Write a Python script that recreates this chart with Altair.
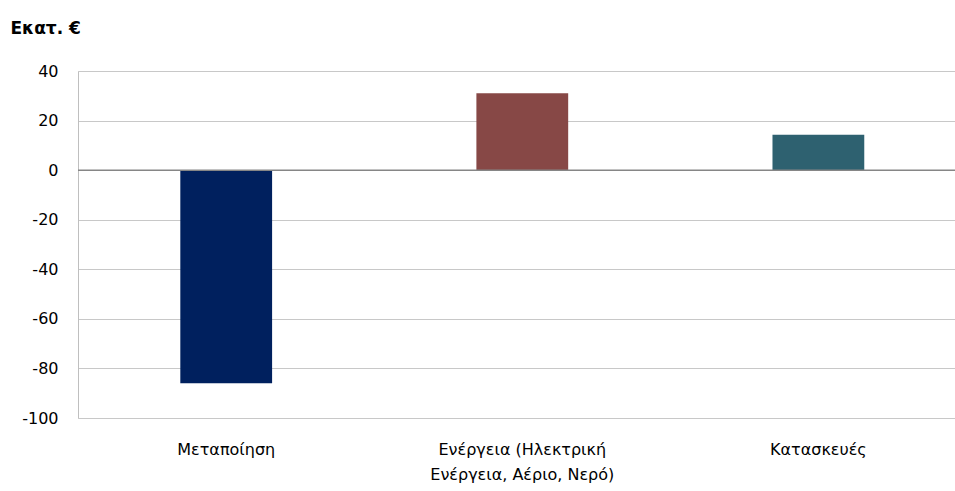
import altair as alt
import pandas as pd

# Sector values (million €)
label_lines = [
    ["Μεταποίηση"],
    ["Ενέργεια (Ηλεκτρική", "Ενέργεια, Αέριο, Νερό)"],
    ["Κατασκευές"],
]
categories = ["\n".join(lines) for lines in label_lines]
values = [-86.0, 31.0, 14.3]
colors = ["#00205E", "#874846", "#2E6170"]
y_ticks = [-100, -80, -60, -40, -20, 0, 20, 40]

df = pd.DataFrame({"sector": categories, "value": values, "color": colors})

FONT = "DejaVu Sans"

x_enc = alt.X(
    "sector:N",
    sort=categories,
    title=None,
    scale=alt.Scale(paddingInner=0.69, paddingOuter=0.326, align=0.53),
    axis=alt.Axis(
        labelExpr="split(datum.label, '\\n')",
        labelAngle=0,
        labelFont=FONT,
        labelFontSize=16,
        labelColor="#000000",
        labelLineHeight=25,
        labelBaseline="top",
        labelPadding=23,
        labelLimit=500,
        labelOverlap=False,
        ticks=False,
        domain=False,
        grid=False,
    ),
)

bars = alt.Chart(df).mark_bar().encode(
    x=x_enc,
    y=alt.Y(
        "value:Q",
        scale=alt.Scale(domain=[-100, 40], nice=False),
        axis=alt.Axis(
            values=y_ticks,
            labelExpr="toString(datum.value)",
            title="Εκατ. €",
            titleAngle=0,
            titleAlign="left",
            titleBaseline="alphabetic",
            titleX=-68,
            titleY=-38,
            titleFont=FONT,
            titleFontSize=17,
            titleFontWeight="bold",
            titleColor="#000000",
            labelFont=FONT,
            labelFontSize=16,
            labelColor="#000000",
            labelPadding=20,
            ticks=False,
            domainColor="#BFBFBF",
            gridColor="#C8C8C8",
            gridWidth=1,
        ),
    ),
    color=alt.Color("color:N", scale=None, legend=None),
)

zero_rule = alt.Chart(pd.DataFrame({"y": [0]})).mark_rule(
    color="#868686", strokeWidth=1.5
).encode(y="y:Q")

chart = (
    alt.layer(bars, zero_rule)
    .properties(
        width=877,
        height=347,
        autosize=alt.AutoSizeParams(type="none"),
        padding={"left": 78, "top": 71, "right": 0, "bottom": 73},
    )
    .configure_view(stroke=None)
    .configure(background="white")
)

chart.save("out.html", embed_options={"renderer": "svg", "actions": False})
